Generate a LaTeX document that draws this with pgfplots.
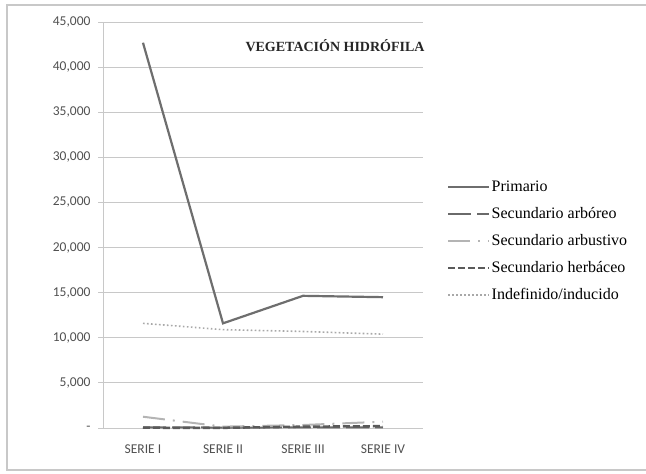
\documentclass[border=0pt]{standalone}
\usepackage{fontspec}
\setmainfont{Liberation Serif}
\newfontfamily\carlito{Carlito}
\usepackage{pgfplots}
\pgfplotsset{compat=1.18}
\definecolor{prim}{HTML}{6E6E6E}
\definecolor{arbo}{HTML}{6A6A6A}
\definecolor{arbu}{HTML}{B4B4B4}
\definecolor{herb}{HTML}{5A5A5A}
\definecolor{inde}{HTML}{A8A8A8}
\definecolor{gridc}{HTML}{C8C8C8}
\definecolor{tickc}{HTML}{505050}
\begin{document}
\begin{tikzpicture}[x=1pt,y=1pt]
\useasboundingbox (0,0) rectangle (646,474);
\draw[gridc, line width=1.5pt] (646,469) -- (7,469) -- (7,4) -- (646,4);
\begin{axis}[
  at={(103pt,46pt)}, anchor=south west,
  scale only axis, width=320pt, height=406pt,
  xmin=-0.5, xmax=3.5, ymin=0, ymax=45000,
  axis x line*=bottom, axis y line*=left,
  axis line style={gridc, line width=0.8pt, -},
  xtick={0,1,2,3},
  xticklabels={SERIE I, SERIE II, SERIE III, SERIE IV},
  major x tick style={draw=none},
  extra x ticks={-0.5,0.5,1.5,2.5,3.5},
  extra x tick labels={},
  extra x tick style={tick style={gridc, line width=0.8pt}, major tick length=5pt, tick align=outside, grid=none},
  scaled y ticks=false,
  ytick={0,5000,10000,15000,20000,25000,30000,35000,40000,45000},
  yticklabels={-,{5,000},{10,000},{15,000},{20,000},{25,000},{30,000},{35,000},{40,000},{45,000}},
  ymajorgrids, grid style={gridc, line width=0.8pt},
  y tick style={gridc, line width=0.8pt}, tick align=outside, major tick length=5pt,
  ticklabel style={font=\carlito\fontsize{13.5}{15}\selectfont, text=tickc},
  xticklabel style={yshift=-8pt, font=\carlito\fontsize{13.5}{15}\selectfont},
  yticklabel style={xshift=-4pt},
  legend style={at={(1.075,0.612)}, anchor=north west, draw=none, fill=none,
    font=\fontsize{16}{18}\selectfont, inner sep=0pt, row sep=12.5pt,
    nodes={inner sep=1pt}},
  legend cell align=left,
  legend image code/.code={\draw[#1] (0pt,0pt) -- (41pt,0pt);},
  clip=false,
]
\addplot[prim, line width=2.2pt] coordinates {(0,42700) (1,11600) (2,14650) (3,14500)};
\addlegendentry{Primario}
\addplot[arbo, line width=2pt, dash pattern=on 23pt off 6pt] coordinates {(0,80) (1,50) (2,60) (3,60)};
\addlegendentry{Secundario arbóreo}
\addplot[arbu, line width=2pt, dash pattern=on 22pt off 8pt on 2pt off 8pt] coordinates {(0,1250) (1,150) (2,330) (3,700)};
\addlegendentry{Secundario arbustivo}
\addplot[herb, line width=2.5pt, dash pattern=on 7pt off 3pt] coordinates {(0,30) (1,20) (2,150) (3,200)};
\addlegendentry{Secundario herbáceo}
\addplot[inde, line width=1.6pt, dash pattern=on 1.6pt off 2.4pt] coordinates {(0,11600) (1,10900) (2,10700) (3,10400)};
\addlegendentry{Indefinido/inducido}
\end{axis}
\node[anchor=west, font=\bfseries\fontsize{14}{16}\selectfont, text=black!85] at (242,428) {VEGETACIÓN HIDRÓFILA};
\end{tikzpicture}
\end{document}
